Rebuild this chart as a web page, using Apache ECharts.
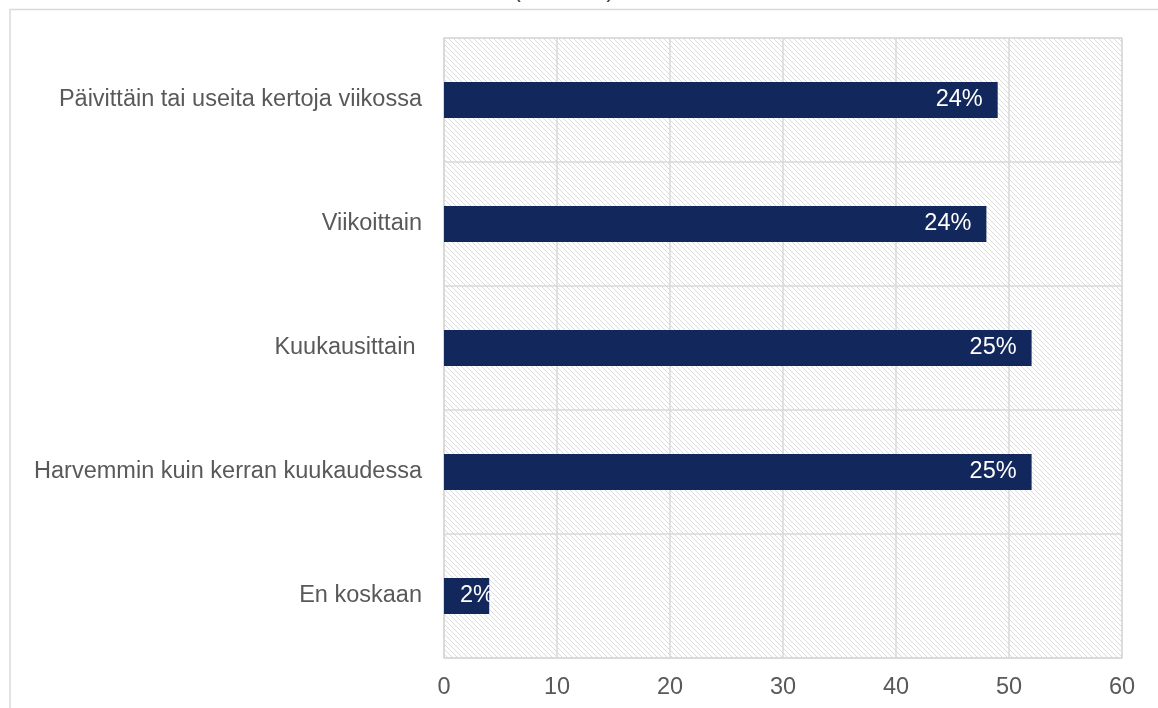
<!DOCTYPE html>
<html>
<head>
<meta charset="utf-8">
<script src="https://cdn.jsdelivr.net/npm/echarts@6/dist/echarts.min.js"></script>
<style>
html, body { margin: 0; padding: 0; background: #fff; }
#chart { width: 1158px; height: 708px; }
</style>
</head>
<body>
<div id="chart"></div>
<script>
// data
var categories = [
	'Päivittäin tai useita kertoja viikossa',
	'Viikoittain',
	'Kuukausittain ',
	'Harvemmin kuin kerran kuukaudessa',
	'En koskaan'
];
var values = [49, 48, 52, 52, 4];
var shares = ['24%', '24%', '25%', '25%', '2%'];
var xTicks = [0, 10, 20, 30, 40, 50, 60];

// light downward diagonal hatch
function hatch() {
	var c = document.createElement('canvas');
	c.width = 5;
	c.height = 5;
	var ctx = c.getContext('2d');
	ctx.fillStyle = '#ffffff';
	ctx.fillRect(0, 0, 5, 5);
	ctx.fillStyle = '#dcdcdc';
	for (var i = 0; i < 5; i++) {
		ctx.fillRect(i, i, 1, 1);
	}
	return c;
}

var font = 'Liberation Sans, Arial, sans-serif';
var chart = echarts.init(document.getElementById('chart'));

chart.setOption({
	animation: false,
	title: {
		text: '(n=1 000)',
		left: 508,
		top: -26,
		textStyle: { fontFamily: font, fontSize: 23.5, fontWeight: 'normal', color: '#404040' }
	},
	graphic: [
		{
			type: 'polyline',
			shape: { points: [[10, 708], [10, 9.5], [1158, 9.5]] },
			style: { stroke: '#d9d9d9', lineWidth: 1.5, fill: null },
			silent: true
		}
	],
	grid: {
		left: 444,
		right: 36,
		top: 38,
		bottom: 50,
		show: true,
		borderColor: '#d9d9d9',
		borderWidth: 1,
		backgroundColor: { image: hatch(), repeat: 'repeat' }
	},
	xAxis: {
		type: 'value',
		min: xTicks[0],
		max: xTicks[xTicks.length - 1],
		interval: 10,
		axisLine: { show: true, lineStyle: { color: '#d9d9d9', width: 1.5 } },
		axisTick: { show: false },
		splitLine: { show: true, lineStyle: { color: '#d9d9d9', width: 1.5 } },
		axisLabel: {
			margin: 18,
			fontFamily: font,
			fontSize: 23.5,
			color: '#595959'
		}
	},
	yAxis: {
		type: 'category',
		data: categories,
		inverse: true,
		axisLine: { show: true, lineStyle: { color: '#d9d9d9', width: 1.5 } },
		axisTick: { show: false },
		splitLine: { show: true, lineStyle: { color: '#d9d9d9', width: 1.5 } },
		axisLabel: {
			margin: 22,
			fontFamily: font,
			fontSize: 23.5,
			color: '#595959'
		}
	},
	series: [
		{
			type: 'bar',
			barWidth: 36,
			itemStyle: { color: '#12275c' },
			label: {
				show: true,
				position: 'insideRight',
				distance: 15,
				fontFamily: font,
				fontSize: 23.5,
				color: '#ffffff',
				formatter: function(p) {
					return shares[p.dataIndex];
				}
			},
			data: values.map(function(v, i) {
				// the tiny bar has its label starting inside and running past the end
				if (v < 10) {
					return { value: v, label: { position: 'insideLeft', distance: 16 } };
				}
				return v;
			})
		}
	]
});
</script>
</body>
</html>
